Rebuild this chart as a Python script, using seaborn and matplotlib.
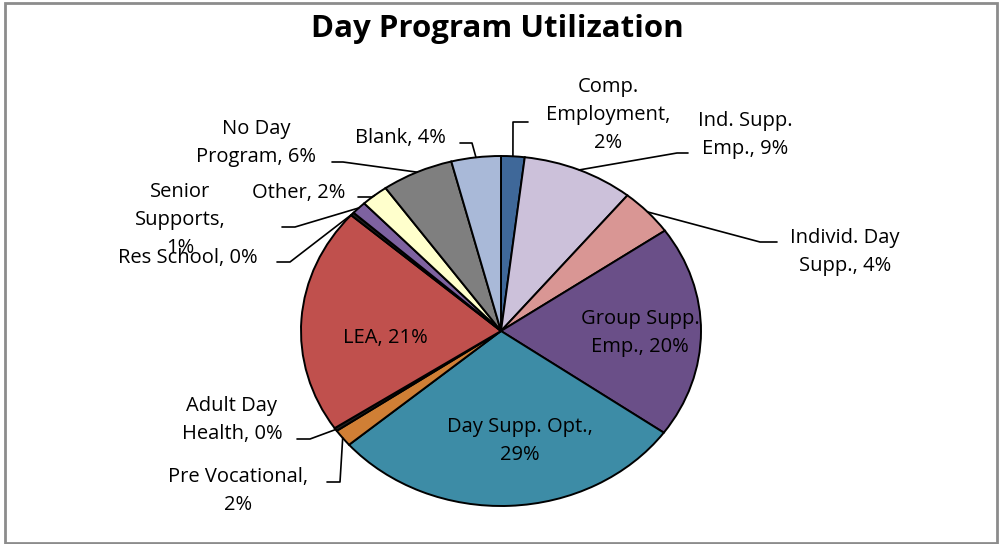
import numpy as np
import matplotlib
matplotlib.use("Agg")
import matplotlib.pyplot as plt
import seaborn as sns
from matplotlib.patches import Rectangle

# ────────────────────────────────────────────────
# DATA (clockwise from 12 o'clock)
# ────────────────────────────────────────────────
categories = ["Comp. Employment", "Ind. Supp. Emp.", "Individ. Day Supp.",
              "Group Supp. Emp.", "Day Supp. Opt.", "Pre Vocational",
              "Adult Day Health", "LEA", "Res School", "Senior Supports",
              "Other", "No Day Program", "Blank"]
values = [1.9, 9.0, 4.4, 19.6, 28.9, 1.6, 0.3, 20.9, 0.3, 1.2, 2.2, 5.8, 4.0]
label_text = ["Comp.\nEmployment,\n2%", "Ind. Supp.\nEmp., 9%", "Individ. Day\nSupp., 4%",
              "Group Supp.\nEmp., 20%", "Day Supp. Opt.,\n29%", "Pre Vocational,\n2%",
              "Adult Day\nHealth, 0%", "LEA, 21%", "Res School, 0%", "Senior\nSupports,\n1%",
              "Other, 2%", "No Day\nProgram, 6%", "Blank, 4%"]
colors = ["#3F6899", "#CCC1DA", "#D99694", "#6A4F88", "#3D8CA6", "#D07F35",
          "#1F1F1F", "#C0504D", "#1F1F1F", "#7E62A0", "#FFFFCC", "#7F7F7F", "#A9B9D8"]

# label centres and leader elbows/ends, in pixels of the 1004x544 image
label_px = [(608, 115), (745, 135), (845, 252), (640, 333), (520, 441), (238, 491),
            (232, 420), (385, 338), (188, 258), (180, 220), (299, 193), (256, 143), (400, 138)]
leader_px = [[(513, 122), (528, 122)], [(677, 153), (688, 153)], [(760, 242), (777, 242)],
             None, None, [(340, 482), (327, 482)],
             [(310, 439), (297, 439)], None, [(290, 262), (277, 262)],
             [(295, 227), (282, 227)], [(372, 197), (358, 197)],
             [(343, 162), (332, 162)], [(472, 143), (460, 143)]]

W, H = 1004, 544
CX, CY, RX, RY = 501, 331, 200, 175


def to_data(p):
    return ((p[0] - CX) / RX, (CY - p[1]) / RY)


sns.set_theme(style="white")
plt.rcParams['font.family'] = ['Open Sans', 'DejaVu Sans']

fig = plt.figure(figsize=(W / 100, H / 100), dpi=100)
ax = fig.add_axes([(CX - RX) / W, (H - CY - RY) / H, 2 * RX / W, 2 * RY / H])

wedges, _ = ax.pie(values, colors=colors, startangle=90, counterclock=False,
                   wedgeprops=dict(edgecolor="black", linewidth=1.4))
ax.set_aspect("auto")
ax.set_xlim(-1, 1)
ax.set_ylim(-1, 1)
ax.axis("off")

for w, txt, lp, ld in zip(wedges, label_text, label_px, leader_px):
    lx, ly = to_data(lp)
    ax.text(lx, ly, txt, ha="center", va="center", fontsize=14.5,
            linespacing=1.55, color="black", clip_on=False)
    if ld is None:
        continue
    mid = np.deg2rad((w.theta1 + w.theta2) / 2)
    pts = [(np.cos(mid), np.sin(mid))] + [to_data(p) for p in ld]
    xs, ys = zip(*pts)
    ax.plot(xs, ys, color="black", lw=1.2, clip_on=False)

fig.text(497 / W, 1 - 29 / H, "Day Program Utilization", ha="center", va="center",
         fontsize=22.5, fontweight="bold", color="black")

fig.patches.append(Rectangle((5 / W, 1 / H), 992 / W, 540 / H, transform=fig.transFigure,
                             fill=False, edgecolor="#8C8C8C", linewidth=2))

plt.savefig("out.png", dpi=100)
